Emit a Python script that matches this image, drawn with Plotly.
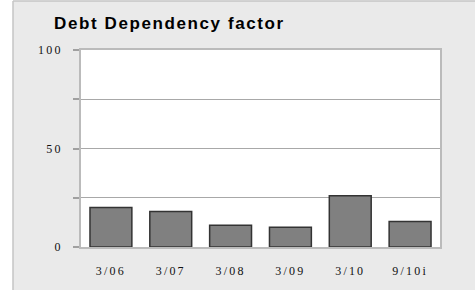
import plotly.graph_objects as go

categories = ["3/06", "3/07", "3/08", "3/09", "3/10", "9/10i"]
values = [20, 18, 11, 10, 26, 13]
y_tickvals = [0, 25, 50, 75, 100]
y_ticklabels = ["0", "", "50", "", "100"]
title_text = "Debt Dependency factor"

W, H = 475, 290
L, R, T, B = 81, 35, 50, 43
pw, ph = W - L - R, H - T - B

def px_x(px):
    return (px - L) / pw

def px_y(py):
    return (H - B - py) / ph

def spaced(s, sp):
    return '<span style="letter-spacing:%spx">%s</span>' % (sp, s) if s else ""

fig = go.Figure(go.Bar(
    x=categories, y=values,
    marker=dict(color="#808080", line=dict(color="#333333", width=1.5)),
    width=0.7,
))

shapes = [
    dict(type="rect", xref="paper", yref="paper", x0=px_x(-5), x1=px_x(13), y0=px_y(H + 5), y1=px_y(-5),
         fillcolor="white", line=dict(width=0), layer="below"),
    dict(type="rect", xref="paper", yref="paper", x0=px_x(-5), x1=px_x(W + 5), y0=px_y(1), y1=px_y(-5),
         fillcolor="white", line=dict(width=0), layer="below"),
    dict(type="line", xref="paper", yref="paper", x0=px_x(13), x1=px_x(13), y0=px_y(H + 5), y1=px_y(1),
         line=dict(color="#C4C4C4", width=1.5)),
    dict(type="line", xref="paper", yref="paper", x0=px_x(13), x1=px_x(W + 5), y0=px_y(1), y1=px_y(1),
         line=dict(color="#C4C4C4", width=1.5)),
]

fig.update_layout(
    width=W, height=H,
    margin=dict(l=L, r=R, t=T, b=B, pad=0),
    paper_bgcolor="#EAEAEA",
    plot_bgcolor="white",
    showlegend=False,
    shapes=shapes,
    title=dict(text="<b>" + spaced(title_text, 1.6) + "</b>", xref="container", yref="container",
               x=54 / W, xanchor="left", y=1 - 23 / H, yanchor="middle",
               font=dict(family="Liberation Sans, Arial", size=17, color="black")),
    bargap=0.3,
)
fig.update_xaxes(
    tickvals=categories, ticktext=[spaced(c, 2.2) for c in categories],
    showgrid=False, showline=True, linecolor="#BBBBBB", linewidth=1.5, mirror=True,
    ticks="", tickfont=dict(family="Liberation Serif, Times New Roman", size=12, color="#111111"),
    ticklabelstandoff=12,
)
fig.update_yaxes(
    range=[0, 100], tickvals=y_tickvals, ticktext=[spaced(t, 2.2) for t in y_ticklabels],
    showgrid=True, gridcolor="#A8A8A8", gridwidth=1,
    showline=True, linecolor="#BBBBBB", linewidth=2, mirror=True,
    ticks="outside", ticklen=6, tickcolor="#A0A0A0", tickwidth=1.5,
    tickfont=dict(family="Liberation Serif, Times New Roman", size=12, color="#111111"),
    ticklabelstandoff=8, zeroline=False,
)

fig.write_html("out.html", config={"displayModeBar": False},
               post_script="document.body.style.margin='0';")
